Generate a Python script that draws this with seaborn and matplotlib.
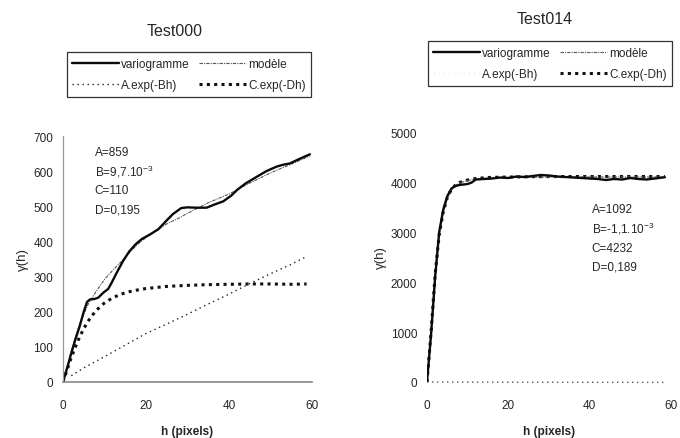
import matplotlib
matplotlib.use("Agg")
import matplotlib.pyplot as plt
import seaborn as sns
import numpy as np

sns.set_style("white")
plt.rcParams["font.family"] = ["Liberation Sans", "DejaVu Sans"]
plt.rcParams["mathtext.fontset"] = "custom"
plt.rcParams["mathtext.rm"] = "Liberation Sans"
plt.rcParams["mathtext.it"] = "Liberation Sans:italic"

# ---------------- Test000 ----------------
h_var0 = [0, 1, 2, 3, 4, 5, 5.8, 6.5, 7.5, 8.5, 9.7, 10.9, 11.7, 12.9, 14.5, 16, 17.5,
          19, 21, 23, 25, 26.5, 28.5, 30, 32, 34.6, 36.5, 38.6, 40.5, 42, 44, 46.7,
          49, 51.5, 53, 54.7, 57, 59.5]
var0 = [0, 40, 82, 122, 158, 200, 228, 235, 236, 240, 254, 265, 282, 310, 345, 372, 392,
        407, 420, 435, 460, 478, 495, 497, 496, 496, 505, 514, 530, 547, 565, 584,
        600, 613, 618, 622, 635, 648]

h_mod0 = [0, 2, 4, 6, 8, 10, 12, 14, 16, 18, 20, 22, 25, 28, 30, 32, 35, 38, 40, 45, 50,
          55, 59.5]
mod0 = [0, 88, 165, 220, 258, 292, 318, 342, 368, 392, 411, 428, 450, 467, 480, 492, 510,
        525, 535, 566, 595, 620, 643]

h_a0 = [2, 5, 10, 15, 20, 25, 30, 35, 40, 45, 50, 55, 58.7]
a0 = [18, 40, 72, 105, 138, 165, 193, 222, 250, 280, 308, 335, 357]

h_c0 = [0, 1, 2, 3, 4, 5, 6, 7, 8, 9, 10, 12, 14, 16, 18, 20, 25, 30, 35, 40, 45, 50,
        55, 58.7]
c0 = [0, 35, 70, 100, 128, 152, 172, 189, 203, 215, 225, 240, 250, 257, 262, 266, 272,
      275, 277, 278, 279, 279, 278, 279]

params0 = ["A=859", "B=9,7.10$^{-3}$", "C=110", "D=0,195"]

# ---------------- Test014 ----------------
h_var1 = [0, 1, 2, 3, 4, 5, 6, 7, 8, 9, 10, 11, 12, 14, 16, 18, 20, 22, 24, 26, 28, 30,
          32, 34, 36, 38, 40, 42, 44, 46, 48, 50, 52, 54, 56, 58.5]
var1 = [0, 950, 2100, 3000, 3450, 3720, 3870, 3920, 3940, 3950, 3960, 3990, 4050, 4060,
        4070, 4090, 4080, 4110, 4100, 4120, 4140, 4130, 4110, 4100, 4090, 4080, 4070,
        4060, 4040, 4060, 4050, 4080, 4060, 4050, 4070, 4095]

h_mod1 = [0, 1, 2, 3, 4, 5, 6, 7, 8, 10, 12, 15, 20, 25, 30, 35, 40, 45, 50, 55, 58.5]
mod1 = [0, 1000, 2150, 2950, 3400, 3680, 3840, 3930, 3980, 4030, 4060, 4080, 4090, 4095,
        4098, 4100, 4100, 4100, 4100, 4100, 4100]

h_a1 = [0, 10, 20, 30, 40, 50, 58.5]
a1 = [0, -2, -4, -5, -6, -7, -8]

h_c1 = [0, 1, 2, 3, 4, 5, 6, 7, 8, 10, 12, 15, 20, 25, 30, 35, 40, 45, 50, 55, 58.5]
c1 = [0, 1000, 2150, 2950, 3400, 3690, 3850, 3940, 3990, 4040, 4070, 4090, 4100, 4105,
      4108, 4110, 4110, 4110, 4110, 4110, 4110]

params1 = ["A=1092", "B=-1,1.10$^{-3}$", "C=4232", "D=0,189"]

LABELS = ["variogramme", "modèle", "A.exp(-Bh)", "C.exp(-Dh)"]

fig = plt.figure(figsize=(6.8, 4.39), dpi=100)
ax0 = fig.add_axes([63 / 680, 1 - 383 / 439, 249 / 680, 246 / 439])
ax1 = fig.add_axes([427 / 680, 1 - 383 / 439, 244 / 680, 250 / 439])


def draw(ax, hv, v, hm, m, ha, a, hc, c, a_color):
    sns.lineplot(x=ha, y=a, ax=ax, color=a_color, lw=1.0, linestyle=(0, (1, 2.6)),
                 label=LABELS[2], clip_on=False)
    sns.lineplot(x=hc, y=c, ax=ax, color="#111111", lw=2.2, linestyle=(0, (1, 1.4)),
                 label=LABELS[3])
    sns.lineplot(x=hm, y=m, ax=ax, color="#555555", lw=0.8, linestyle=(0, (3, 1, 1, 1)),
                 label=LABELS[1])
    sns.lineplot(x=hv, y=v, ax=ax, color="#0a0a0a", lw=1.7, label=LABELS[0])
    handles, labels = ax.get_legend_handles_labels()
    ax.get_legend().remove()
    lookup = dict(zip(labels, handles))
    return [lookup[LABELS[0]], lookup[LABELS[2]], lookup[LABELS[1]], lookup[LABELS[3]]]


hd0 = draw(ax0, h_var0, var0, h_mod0, mod0, h_a0, a0, h_c0, c0, "#222222")
hd1 = draw(ax1, h_var1, var1, h_mod1, mod1, h_a1, a1, h_c1, c1, "#555555")

for ax, ymax, ystep in ((ax0, 700, 100), (ax1, 5000, 1000)):
    ax.set_xlim(0, 60)
    ax.set_ylim(0, ymax)
    ax.set_xticks([0, 20, 40, 60])
    ax.set_yticks(np.arange(0, ymax + 1, ystep))
    ax.tick_params(axis="x", length=0, pad=12, labelsize=8.5)
    ax.tick_params(axis="y", length=3, width=0.8, color="#333333", pad=4, labelsize=8.5,
                   direction="out")
    ax.set_facecolor("none")
    for s in ("top", "right"):
        ax.spines[s].set_visible(False)
    ax.set_xlabel("h (pixels)", fontsize=8.5, fontweight="bold", labelpad=10)
    ax.set_ylabel("γ(h)", fontsize=9.5, labelpad=3)

ax0.spines["left"].set_color("#999999")
ax0.spines["left"].set_linestyle((0, (1, 1)))
ax0.spines["left"].set_linewidth(0.9)
ax0.spines["bottom"].set_color("#888888")
ax0.spines["bottom"].set_linewidth(1.2)
ax1.spines["left"].set_visible(False)
ax1.spines["bottom"].set_visible(False)

for i, t in enumerate(params0):
    ax0.text(0.128, [0.935, 0.858, 0.781, 0.703][i], t, transform=ax0.transAxes,
             fontsize=8.5, va="center", ha="left")
for i, t in enumerate(params1):
    ax1.text(0.675, [0.692, 0.616, 0.536, 0.464][i], t, transform=ax1.transAxes,
             fontsize=8.5, va="center", ha="left")

fig.text(175 / 680, 1 - 31 / 439, "Test000", fontsize=11.5, ha="center", va="center")
fig.text(545 / 680, 1 - 20 / 439, "Test014", fontsize=11.5, ha="center", va="center")

legkw = dict(ncol=2, fontsize=8.5, frameon=True, fancybox=False, handlelength=4.0,
             handletextpad=0.15, columnspacing=0.8, labelspacing=0.8, borderpad=0.45,
             borderaxespad=0, loc="center", edgecolor="black")
lab_order = [LABELS[0], LABELS[2], LABELS[1], LABELS[3]]
leg0 = fig.legend(hd0, lab_order, bbox_to_anchor=(189 / 680, 1 - 75.5 / 439), **legkw)
leg1 = fig.legend(hd1, lab_order, bbox_to_anchor=(550 / 680, 1 - 64.5 / 439), **legkw)
for leg in (leg0, leg1):
    leg.get_frame().set_linewidth(0.9)
leg1.legend_handles[1].set_alpha(0.1)

fig.savefig("out.png", dpi=100, facecolor="white")
